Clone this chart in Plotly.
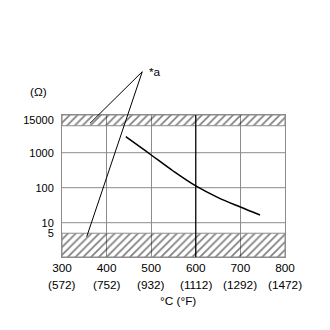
import plotly.graph_objects as go

# Data
TEMP_C = [443, 475, 500, 550, 600, 650, 700, 744]
RESIST = [2860, 1465, 860, 295, 112, 52, 28, 16.6]

X_TICKS = [300, 400, 500, 600, 700, 800]
X_TICK_F = ["(572)", "(752)", "(932)", "(1112)", "(1292)", "(1472)"]

Y_TICK_VALS = [5, 10, 100, 1000, 8400]
Y_TICK_TEXT = ["5", "10", "100", "1000", "15000"]
Y_GRID = [10, 100, 1000]

LOW_BAND = [1.047, 5]
HIGH_BAND = [5900, 11940]

X_RANGE = [300, 800]
Y_RANGE_LOG = [0.02, 4.077]

FONT = "Liberation Sans, Arial, sans-serif"
FS = 11.8
FSY = 11
GRAY = "#8c8c8c"

fig = go.Figure()

pattern = dict(shape="/", size=5.5, solidity=0.3, fgcolor="black", bgcolor="rgba(0,0,0,0)")
for lo, hi in (LOW_BAND, HIGH_BAND):
    fig.add_trace(go.Scatter(
        x=[X_RANGE[0], X_RANGE[1], X_RANGE[1], X_RANGE[0], X_RANGE[0]],
        y=[lo, lo, hi, hi, lo],
        mode="lines", fill="toself", fillcolor="rgba(0,0,0,0)",
        fillpattern=pattern,
        line=dict(color=GRAY, width=1), hoverinfo="skip", showlegend=False))

for g in Y_GRID:
    fig.add_trace(go.Scatter(x=X_RANGE, y=[g, g], mode="lines",
                             line=dict(color=GRAY, width=1), showlegend=False, hoverinfo="skip"))

fig.add_trace(go.Scatter(x=[600, 600], y=[10 ** Y_RANGE_LOG[0], 10 ** Y_RANGE_LOG[1]], mode="lines",
                         line=dict(color="black", width=1.2), showlegend=False, hoverinfo="skip"))

fig.add_trace(go.Scatter(x=TEMP_C, y=RESIST, mode="lines", line=dict(color="black", width=1.5, shape="spline"),
                         showlegend=False))

fig.update_xaxes(range=X_RANGE, tickvals=X_TICKS, ticktext=[str(v) for v in X_TICKS],
                 showgrid=True, gridcolor=GRAY, gridwidth=1, zeroline=False,
                 showline=True, linecolor=GRAY, linewidth=1, mirror=True, ticks="",
                 tickfont=dict(family=FONT, size=FS, color="black"))
fig.update_yaxes(type="log", range=Y_RANGE_LOG, tickvals=Y_TICK_VALS, ticktext=Y_TICK_TEXT,
                 showgrid=False, zeroline=False, showline=True, linecolor=GRAY, linewidth=1,
                 mirror=True, ticks="", ticklabelstandoff=5,
                 tickfont=dict(family=FONT, size=FSY, color="black"))

annotations = []
for xv, t in zip(X_TICKS, X_TICK_F):
    annotations.append(dict(x=xv, y=0, xref="x", yref="paper", text=t, showarrow=False,
                            yanchor="middle", yshift=-28, font=dict(family=FONT, size=FS, color="black")))
annotations.append(dict(x=0.519, y=0, xref="paper", yref="paper", text="°C (°F)", showarrow=False,
                        yanchor="middle", yshift=-44, font=dict(family=FONT, size=FS, color="black")))
annotations.append(dict(x=-0.106, y=1.16, xref="paper", yref="paper", text="(Ω)", showarrow=False,
                        xanchor="center", yanchor="middle", font=dict(family=FONT, size=FS, color="black")))
annotations.append(dict(x=0.380, y=1.305, xref="paper", yref="paper", text="*a", showarrow=False,
                        xanchor="left", yanchor="middle", font=dict(family=FONT, size=FS, color="black")))

shapes = [
    dict(type="line", xref="paper", yref="paper", x0=0.360, y0=1.305, x1=0.1256, y1=0.9415,
         line=dict(color="black", width=1)),
    dict(type="line", xref="paper", yref="paper", x0=0.360, y0=1.305, x1=0.1108, y1=0.143,
         line=dict(color="black", width=1)),
]

fig.update_layout(width=330, height=330, margin=dict(l=62, r=45, t=115, b=73),
                  paper_bgcolor="white", plot_bgcolor="white",
                  annotations=annotations, shapes=shapes, showlegend=False)

fig.write_html("out.html")
